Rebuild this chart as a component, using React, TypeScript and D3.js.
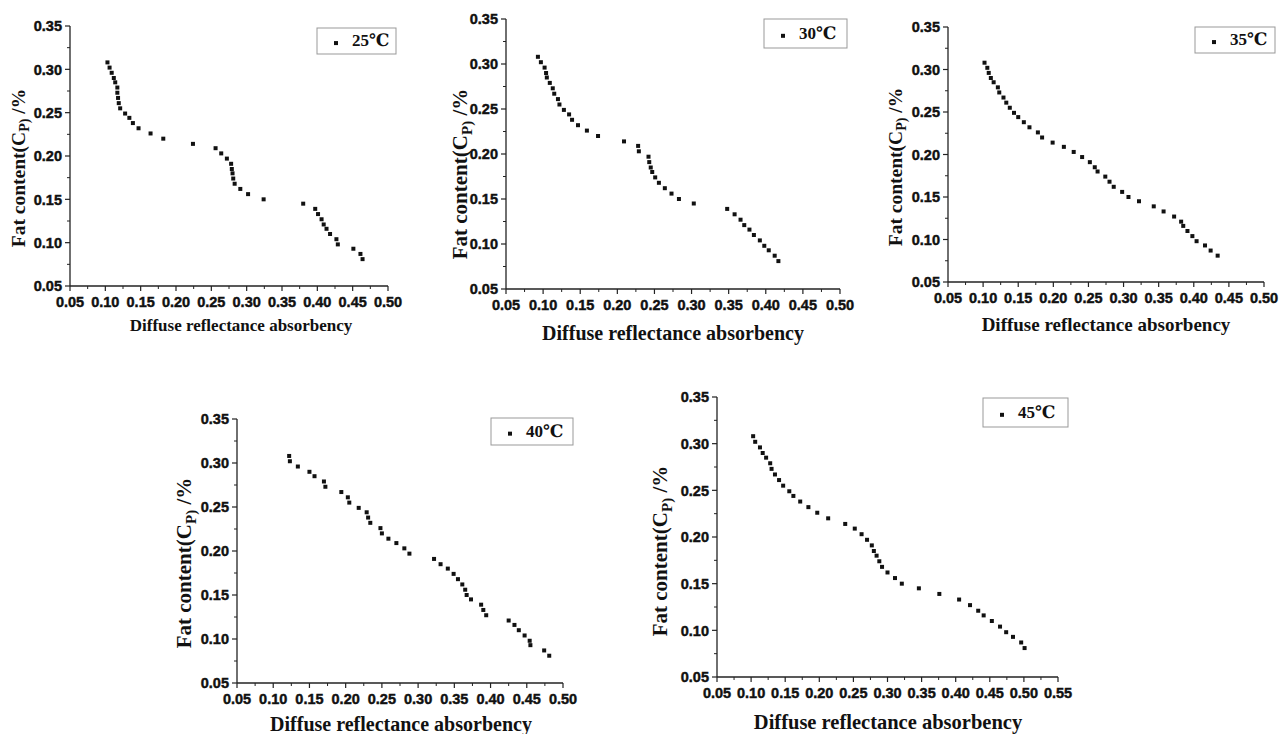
import React from "react";
import * as d3 from "d3";

// Fat content (Cp, %) — shared y values for every temperature
const fatContent = [
  0.308, 0.302, 0.296, 0.290, 0.285, 0.279, 0.273, 0.267, 0.261, 0.255,
  0.249, 0.244, 0.238, 0.232, 0.226, 0.220, 0.214, 0.209, 0.203, 0.197,
  0.191, 0.185, 0.180, 0.174, 0.168, 0.162, 0.156, 0.150, 0.145, 0.139,
  0.133, 0.127, 0.121, 0.116, 0.110, 0.104, 0.098, 0.093, 0.087, 0.081,
];

// Diffuse reflectance absorbency per temperature
const abs25 = [
  0.103, 0.106, 0.109, 0.112, 0.114, 0.117, 0.117, 0.118, 0.119, 0.121,
  0.128, 0.134, 0.139, 0.147, 0.164, 0.182, 0.224, 0.256, 0.264, 0.272,
  0.278, 0.279, 0.280, 0.281, 0.283, 0.291, 0.302, 0.324, 0.380, 0.397,
  0.401, 0.406, 0.409, 0.413, 0.418, 0.427, 0.429, 0.451, 0.461, 0.464,
];
const abs30 = [
  0.093, 0.097, 0.102, 0.104, 0.105, 0.109, 0.113, 0.115, 0.120, 0.122,
  0.128, 0.135, 0.139, 0.147, 0.159, 0.174, 0.209, 0.228, 0.229, 0.242,
  0.243, 0.245, 0.247, 0.251, 0.256, 0.264, 0.273, 0.283, 0.303, 0.348,
  0.358, 0.366, 0.371, 0.378, 0.384, 0.392, 0.398, 0.404, 0.412, 0.417,
];
const abs35 = [
  0.102, 0.106, 0.108, 0.111, 0.115, 0.121, 0.123, 0.129, 0.133, 0.138,
  0.144, 0.150, 0.158, 0.166, 0.178, 0.184, 0.199, 0.215, 0.229, 0.241,
  0.252, 0.259, 0.263, 0.274, 0.280, 0.286, 0.298, 0.307, 0.322, 0.343,
  0.357, 0.372, 0.382, 0.385, 0.391, 0.398, 0.404, 0.416, 0.424, 0.434,
];
const abs40 = [
  0.122, 0.123, 0.134, 0.150, 0.157, 0.170, 0.172, 0.194, 0.203, 0.205,
  0.218, 0.229, 0.231, 0.234, 0.248, 0.250, 0.259, 0.270, 0.281, 0.288,
  0.322, 0.331, 0.341, 0.349, 0.355, 0.361, 0.365, 0.367, 0.373, 0.387,
  0.390, 0.394, 0.425, 0.433, 0.439, 0.447, 0.454, 0.455, 0.474, 0.481,
];
const abs45 = [
  0.103, 0.106, 0.113, 0.117, 0.122, 0.128, 0.130, 0.135, 0.141, 0.147,
  0.156, 0.162, 0.172, 0.184, 0.197, 0.213, 0.238, 0.252, 0.262, 0.270,
  0.277, 0.280, 0.284, 0.288, 0.292, 0.300, 0.311, 0.321, 0.346, 0.376,
  0.405, 0.421, 0.433, 0.441, 0.453, 0.465, 0.474, 0.484, 0.496, 0.501,
];

const temperatures = ["25℃", "30℃", "35℃", "40℃", "45℃"];
const yTicks = [0.05, 0.10, 0.15, 0.20, 0.25, 0.30, 0.35];
const xTicks50 = [0.05, 0.10, 0.15, 0.20, 0.25, 0.30, 0.35, 0.40, 0.45, 0.50];
const xTicks55 = [0.05, 0.10, 0.15, 0.20, 0.25, 0.30, 0.35, 0.40, 0.45, 0.50, 0.55];
const xTitle = "Diffuse reflectance absorbency";

// layout per panel (pixel geometry only)
const panels = [
  { data: abs25, label: temperatures[0], xTicks: xTicks50, box: [70, 26, 388, 286], legend: [317, 28, 79, 26], xt: { cx: 241, y: 331, fs: 17 }, yt: { x: 25, cy: 168, fs: 19.5 } },
  { data: abs30, label: temperatures[1], xTicks: xTicks50, box: [506, 19, 840, 289], legend: [764, 19, 83, 29], xt: { cx: 673, y: 340, fs: 20 }, yt: { x: 467, cy: 174, fs: 21 } },
  { data: abs35, label: temperatures[2], xTicks: xTicks50, box: [948, 27, 1264, 282], legend: [1195, 27, 80, 26], xt: { cx: 1106, y: 331, fs: 19 }, yt: { x: 902, cy: 167, fs: 19.5 } },
  { data: abs40, label: temperatures[3], xTicks: xTicks50, box: [237, 419, 563, 683], legend: [491, 418, 82, 27], xt: { cx: 401, y: 731, fs: 20 }, yt: { x: 191, cy: 563, fs: 21 } },
  { data: abs45, label: temperatures[4], xTicks: xTicks55, box: [717, 397, 1058, 677], legend: [983, 398, 85, 29], xt: { cx: 888, y: 729, fs: 20.5 }, yt: { x: 667, cy: 551, fs: 21 } },
];

const SANS = "'Liberation Sans', Arial, sans-serif";
const SERIF = "'Liberation Serif', 'Times New Roman', 'DejaVu Serif', serif";
const AXIS = "#222";

function Panel({ p }: { p: any }) {
  const [x0, y0, x1, y1] = p.box;
  const xs = d3.scaleLinear().domain([p.xTicks[0], p.xTicks[p.xTicks.length - 1]]).range([x0, x1]);
  const ys = d3.scaleLinear().domain([yTicks[0], yTicks[yTicks.length - 1]]).range([y1, y0]);
  const xMinor = p.xTicks.slice(1).map((t: number, i: number) => (t + p.xTicks[i]) / 2);
  const yMinor = yTicks.slice(1).map((t, i) => (t + yTicks[i]) / 2);
  const fmt = d3.format(".2f");
  const [lx, ly, lw, lh] = p.legend;
  const tickText = { fontFamily: SANS, fontWeight: 700, fontSize: 14.5, fill: "#111", stroke: "#111", strokeWidth: 0.45 } as any;
  return (
    <g>
      {/* axes */}
      <line x1={x0} y1={y1} x2={x1} y2={y1} stroke={AXIS} strokeWidth={1.3} />
      <line x1={x0} y1={y0} x2={x0} y2={y1} stroke={AXIS} strokeWidth={1.3} />
      {p.xTicks.map((t: number) => (
        <g key={"xt" + t}>
          <line x1={xs(t)} x2={xs(t)} y1={y1} y2={y1 + 5} stroke={AXIS} strokeWidth={1.2} />
          <text x={xs(t)} y={y1 + 21} textAnchor="middle" {...tickText}>
            {fmt(t)}
          </text>
        </g>
      ))}
      {xMinor.map((t: number) => (
        <line key={"xm" + t} x1={xs(t)} x2={xs(t)} y1={y1} y2={y1 + 3} stroke={AXIS} strokeWidth={1} />
      ))}
      {yTicks.map((t) => (
        <g key={"yt" + t}>
          <line x1={x0 - 5} x2={x0} y1={ys(t)} y2={ys(t)} stroke={AXIS} strokeWidth={1.2} />
          <text x={x0 - 8} y={ys(t)} dy="0.36em" textAnchor="end" {...tickText}>
            {fmt(t)}
          </text>
        </g>
      ))}
      {yMinor.map((t) => (
        <line key={"ym" + t} x1={x0 - 3} x2={x0} y1={ys(t)} y2={ys(t)} stroke={AXIS} strokeWidth={1} />
      ))}
      {/* points */}
      {p.data.map((v: number, i: number) => (
        <rect key={"pt" + i} x={xs(v) - 2} y={ys(fatContent[i]) - 2} width={4} height={4} fill="#111" />
      ))}
      {/* legend */}
      <rect x={lx} y={ly} width={lw} height={lh} fill="white" stroke="#999" strokeWidth={1} />
      <rect x={lx + 17} y={ly + lh * 0.58 - 2} width={4} height={4} fill="#111" />
      <text x={lx + 35} y={ly + lh * 0.7} fontFamily={SERIF} fontWeight="bold" fontSize={17} fill="#111">
        {p.label}
      </text>
      {/* axis titles */}
      <text x={p.xt.cx} y={p.xt.y} textAnchor="middle" fontFamily={SERIF} fontWeight="bold" fontSize={p.xt.fs} fill="#111">
        {xTitle}
      </text>
      <text
        transform={`translate(${p.yt.x},${p.yt.cy}) rotate(-90)`}
        textAnchor="middle"
        fontFamily={SERIF}
        fontWeight="bold"
        fontSize={p.yt.fs}
        fill="#111"
      >
        Fat content(C
        <tspan fontSize="0.72em" dy="0.3em">P)</tspan>
        <tspan dy="-0.22em"> /%</tspan>
      </text>
    </g>
  );
}

export default function App() {
  return (
    <svg
      width={1288}
      height={734}
      viewBox="0 0 1288 734"
      style={{ position: "absolute", left: 0, top: 0, background: "white" }}
    >
      <rect x={0} y={0} width={1288} height={734} fill="white" />
      {panels.map((p, i) => (
        <Panel key={i} p={p} />
      ))}
    </svg>
  );
}
